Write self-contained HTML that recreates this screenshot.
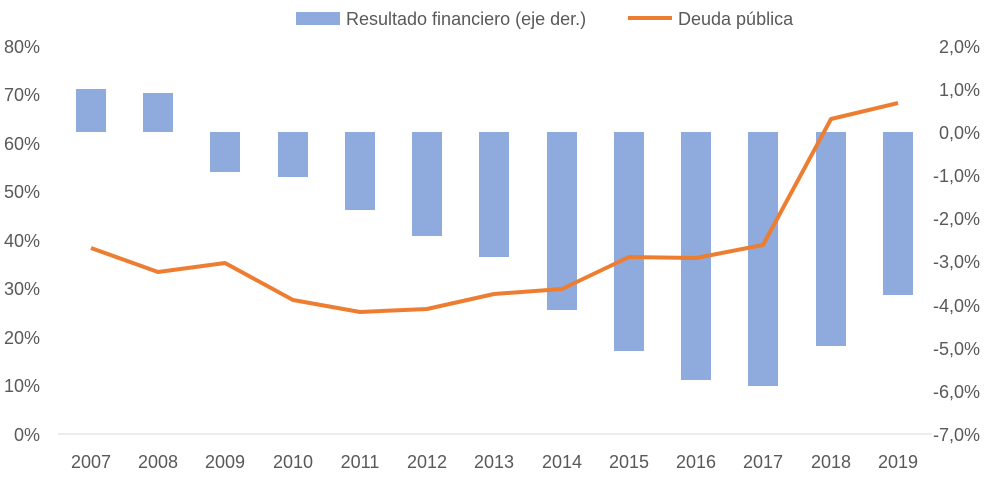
<!DOCTYPE html>
<html><head><meta charset="utf-8"><style>
body{margin:0;background:#fff}
svg text{font-family:"Liberation Sans",sans-serif;font-size:18px;fill:#595959}
</style></head><body>
<svg width="1000" height="486" viewBox="0 0 1000 486">
<rect x="296" y="12" width="44" height="13" fill="#8faadc"/>
<text x="346" y="25">Resultado financiero (eje der.)</text>
<line x1="628" y1="18" x2="672" y2="18" stroke="#ed7d31" stroke-width="4"/>
<text x="678" y="25">Deuda pública</text>
<g text-anchor="end">
<text x="40" y="53">80%</text><text x="40" y="101">70%</text><text x="40" y="150">60%</text><text x="40" y="198">50%</text><text x="40" y="247">40%</text><text x="40" y="295">30%</text><text x="40" y="344">20%</text><text x="40" y="392">10%</text><text x="40" y="441">0%</text>
</g>
<g text-anchor="end">
<text x="980" y="53">2,0%</text><text x="980" y="96">1,0%</text><text x="980" y="139">0,0%</text><text x="980" y="182">-1,0%</text><text x="980" y="225">-2,0%</text><text x="980" y="268">-3,0%</text><text x="980" y="312">-4,0%</text><text x="980" y="355">-5,0%</text><text x="980" y="398">-6,0%</text><text x="980" y="441">-7,0%</text>
</g>
<line x1="58" y1="434" x2="932" y2="434" stroke="#d9d9d9" stroke-width="1"/>
<g fill="#8faadc">
<rect x="76" y="89" width="30" height="43"/>
<rect x="143" y="93" width="30" height="39"/>
<rect x="210" y="132" width="30" height="40"/>
<rect x="278" y="132" width="30" height="45"/>
<rect x="345" y="132" width="30" height="78"/>
<rect x="412" y="132" width="30" height="104"/>
<rect x="479" y="132" width="30" height="125"/>
<rect x="547" y="132" width="30" height="178"/>
<rect x="614" y="132" width="30" height="219"/>
<rect x="681" y="132" width="30" height="248"/>
<rect x="748" y="132" width="30" height="254"/>
<rect x="816" y="132" width="30" height="214"/>
<rect x="883" y="132" width="30" height="163"/>
</g>
<polyline fill="none" stroke="#ed7d31" stroke-width="4" stroke-linejoin="round" points="91,248 158,272 225,263 293,300 360,312 427,309 494,294 562,289 629,257 696,258 763,245 831,119 898,103"/>
<g text-anchor="middle">
<text x="91" y="468">2007</text><text x="158" y="468">2008</text><text x="225" y="468">2009</text><text x="293" y="468">2010</text><text x="360" y="468">2011</text><text x="427" y="468">2012</text><text x="494" y="468">2013</text><text x="562" y="468">2014</text><text x="629" y="468">2015</text><text x="696" y="468">2016</text><text x="763" y="468">2017</text><text x="831" y="468">2018</text><text x="898" y="468">2019</text>
</g>
</svg>
</body></html>
